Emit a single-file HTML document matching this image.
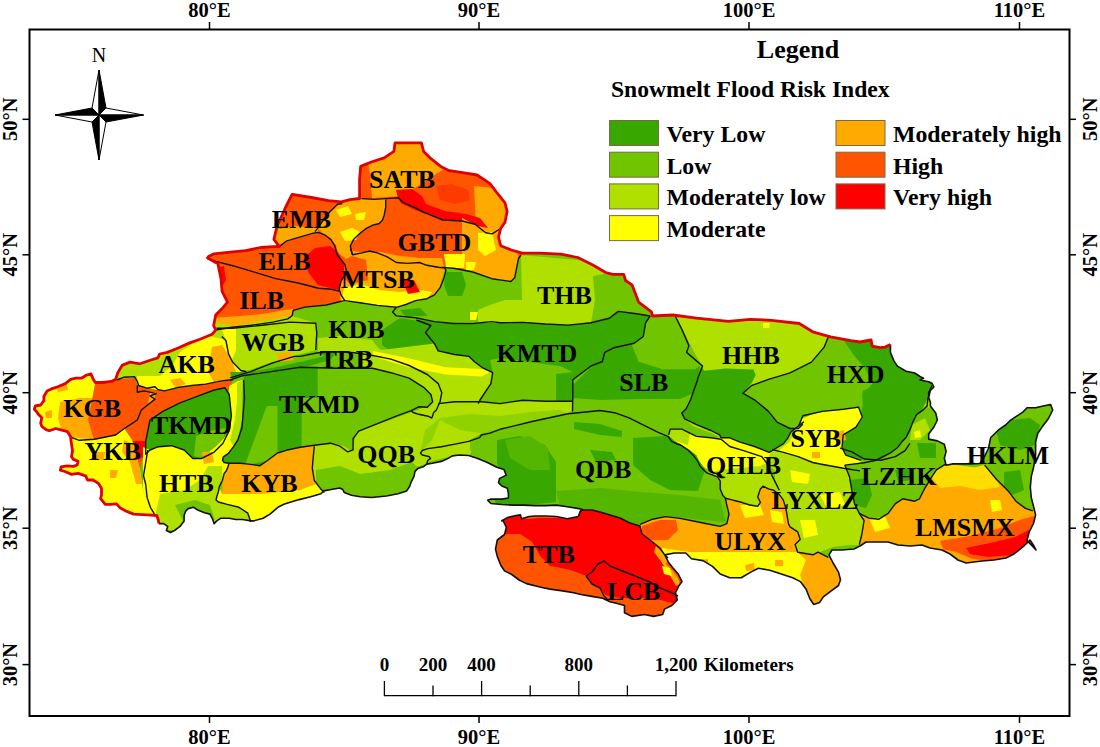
<!DOCTYPE html>
<html><head><meta charset="utf-8"><style>
html,body{margin:0;padding:0;background:#fff;}
svg{display:block;font-family:"Liberation Serif",serif;}
.ax{font-size:20.5px;font-weight:bold;}
.lab text{font-size:26px;font-weight:bold;fill:#000;}
</style></head><body>
<svg width="1100" height="747" viewBox="0 0 1100 747">
<rect width="1100" height="747" fill="#fff"/>
<clipPath id="cp"><polygon points="158.9,523.6 158.2,519.5 156.8,515.5 147.3,514.8 133.6,514.1 126.8,511.4 120.3,508.1 116.5,503.9 110.9,504.3 105.3,504.3 100.6,498.7 101.5,495.0 101.5,488.4 98.7,483.7 93.1,480.0 87.5,480.0 85.6,475.8 78.1,473.4 71.5,474.4 65.0,471.5 60.3,470.1 61.2,466.9 66.9,465.9 73.4,466.4 77.2,465.0 78.1,461.2 73.4,459.4 71.5,456.6 72.5,450.9 70.9,440.0 70.7,437.0 69.6,435.0 67.5,431.7 60.0,429.6 55.7,428.5 49.3,430.7 46.1,429.6 41.8,426.4 40.7,423.2 41.8,417.8 38.6,414.6 36.4,411.4 34.3,409.3 35.4,406.0 40.7,405.0 43.9,400.7 43.9,396.4 47.1,391.0 51.4,388.9 57.8,386.8 65.3,383.6 70.7,379.3 76.0,378.2 81.4,378.2 86.7,375.0 91.0,373.9 93.2,379.3 95.3,382.5 102.8,382.5 111.4,381.4 115.7,379.3 117.8,372.8 122.1,365.4 130.0,362.1 140.0,363.8 150.9,360.0 158.0,357.8 159.6,354.0 167.3,352.4 178.2,348.0 189.1,343.1 200.0,339.3 212.1,334.3 215.7,330.0 213.6,325.7 215.7,315.0 222.1,308.6 227.5,302.1 222.1,291.4 221.0,278.6 217.8,263.6 213.6,261.4 207.5,258.0 208.6,256.4 213.6,253.9 232.8,251.8 245.7,250.7 260.7,247.5 277.8,246.4 279.3,246.7 273.9,239.3 277.0,226.4 285.7,207.0 292.1,194.3 311.4,197.5 328.5,200.7 341.4,201.8 350.0,199.6 359.6,198.5 359.6,179.3 360.7,166.4 371.4,162.0 384.2,157.8 393.9,151.4 395.0,142.9 405.7,142.9 412.9,142.9 421.4,142.9 423.6,151.4 430.0,157.8 440.7,166.4 449.3,170.7 464.3,172.8 477.1,175.0 490.0,183.6 496.4,192.1 505.0,202.8 507.1,211.4 505.0,222.1 500.7,228.5 498.5,237.1 500.7,245.7 511.4,250.0 522.1,253.2 539.2,253.2 560.7,254.2 577.8,257.5 592.8,265.0 605.7,272.5 612.9,274.3 623.6,274.3 625.7,280.7 632.1,285.0 638.6,302.1 651.4,311.8 652.5,316.0 672.8,315.0 696.4,318.2 728.5,321.4 750.0,319.3 771.4,320.3 799.2,323.5 812.7,331.8 830.5,336.9 850.9,340.7 860.0,342.0 871.1,340.0 872.1,346.1 880.1,347.6 885.1,347.1 890.5,344.6 890.5,344.6 890.4,352.2 893.9,360.9 897.4,366.1 906.1,371.3 914.8,373.0 920.0,376.5 923.5,378.3 920.0,380.0 928.7,381.7 932.2,383.5 933.9,387.0 930.4,390.4 928.7,397.4 930.4,402.6 930.4,406.1 935.7,413.0 937.4,420.0 933.9,427.0 928.7,433.9 928.7,439.1 937.4,440.9 944.3,444.3 946.1,451.3 944.3,458.3 946.1,465.2 952.9,463.9 970.2,463.9 980.0,463.5 984.2,457.1 988.5,448.5 990.6,437.8 999.2,429.3 1005.6,425.0 1009.9,420.7 1016.3,416.4 1022.8,412.1 1027.0,407.8 1035.6,407.8 1044.2,405.7 1050.6,404.6 1052.7,410.0 1048.5,418.5 1042.0,427.1 1037.7,433.5 1035.6,442.1 1035.6,455.0 1033.5,467.8 1031.3,476.4 1030.3,487.1 1031.3,497.8 1033.5,506.3 1035.6,514.9 1033.5,523.5 1029.2,532.0 1027.0,540.6 1031.3,544.9 1036.0,550.0 1034.0,546.0 1030.0,540.0 1028.0,542.0 1024.0,546.0 1014.0,554.0 1006.0,558.0 994.0,560.0 982.0,561.0 966.0,563.0 958.0,560.0 950.0,554.0 942.0,550.0 930.0,548.0 922.0,545.0 910.0,546.0 898.0,545.0 888.0,542.0 876.0,542.0 866.0,542.0 860.0,546.0 854.0,549.0 842.0,550.0 832.0,550.0 829.0,554.9 832.8,562.5 838.5,572.1 840.5,579.7 838.5,585.5 830.9,591.2 823.3,596.9 819.5,602.6 813.7,604.5 809.9,598.8 806.1,589.3 800.4,581.6 792.7,577.8 781.3,574.0 769.8,570.2 758.4,568.3 750.7,572.1 741.2,577.8 729.7,577.8 720.2,574.0 712.5,566.4 703.0,560.6 691.5,558.7 685.8,553.0 674.4,553.0 664.8,554.9 668.6,562.5 673.0,568.0 678.2,574.0 682.0,581.6 679.1,585.5 675.5,592.7 677.3,600.0 671.8,605.5 664.5,609.1 662.7,614.5 653.6,616.4 644.5,614.5 631.8,616.4 624.5,612.7 624.5,605.5 617.3,603.6 610.0,601.8 602.7,598.2 591.8,596.4 580.9,594.5 573.6,592.7 562.7,590.9 550.0,589.1 540.9,587.3 526.4,583.6 519.1,580.0 511.8,574.5 504.5,570.9 500.9,565.5 497.3,556.4 495.5,549.1 497.3,540.0 504.5,534.5 506.4,527.3 502.7,520.0 501.8,520.9 507.3,517.6 516.0,515.5 520.4,514.9 521.5,518.7 529.1,516.5 534.5,516.0 545.5,516.0 556.4,516.5 567.3,518.7 578.2,516.5 580.4,511.1 582.5,509.5 580.4,508.9 567.3,506.7 556.4,505.1 545.5,505.6 534.5,505.6 523.6,505.1 512.7,505.1 501.8,504.5 490.9,503.5 487.6,500.2 490.9,499.1 501.8,499.1 508.4,498.0 508.4,493.6 507.3,488.2 501.8,486.0 498.5,482.7 499.6,478.4 506.2,475.1 504.0,469.6 497.5,467.5 490.9,464.2 495.9,466.8 486.8,462.3 477.7,458.6 468.6,455.5 459.5,455.0 452.3,455.9 447.7,458.6 441.4,461.4 432.3,463.2 426.8,464.1 423.2,466.8 417.7,468.6 415.0,471.4 414.0,476.4 411.1,482.2 409.6,486.5 406.7,490.9 398.0,493.8 386.4,496.0 371.8,497.5 360.2,496.7 351.5,495.3 344.2,492.4 342.7,489.5 339.8,488.0 331.1,489.5 323.8,490.9 320.9,493.8 310.7,496.7 299.1,499.6 284.5,504.0 278.3,507.0 270.0,514.1 263.2,518.2 253.6,520.9 250.9,520.9 242.7,519.5 235.9,519.5 229.1,518.2 220.9,518.2 216.8,520.9 214.1,523.6 212.7,519.5 210.0,514.1 204.5,512.7 197.7,510.0 193.6,507.3 188.2,508.6 185.5,511.4 184.1,515.5 184.1,520.9 180.0,526.4 174.5,530.5 170.5,532.5 166.4,530.5 167.7,526.4 163.6,523.6 158.9,523.6"/></clipPath>
<g clip-path="url(#cp)"><polygon points="158.9,523.6 158.2,519.5 156.8,515.5 147.3,514.8 133.6,514.1 126.8,511.4 120.3,508.1 116.5,503.9 110.9,504.3 105.3,504.3 100.6,498.7 101.5,495.0 101.5,488.4 98.7,483.7 93.1,480.0 87.5,480.0 85.6,475.8 78.1,473.4 71.5,474.4 65.0,471.5 60.3,470.1 61.2,466.9 66.9,465.9 73.4,466.4 77.2,465.0 78.1,461.2 73.4,459.4 71.5,456.6 72.5,450.9 70.9,440.0 70.7,437.0 69.6,435.0 67.5,431.7 60.0,429.6 55.7,428.5 49.3,430.7 46.1,429.6 41.8,426.4 40.7,423.2 41.8,417.8 38.6,414.6 36.4,411.4 34.3,409.3 35.4,406.0 40.7,405.0 43.9,400.7 43.9,396.4 47.1,391.0 51.4,388.9 57.8,386.8 65.3,383.6 70.7,379.3 76.0,378.2 81.4,378.2 86.7,375.0 91.0,373.9 93.2,379.3 95.3,382.5 102.8,382.5 111.4,381.4 115.7,379.3 117.8,372.8 122.1,365.4 130.0,362.1 140.0,363.8 150.9,360.0 158.0,357.8 159.6,354.0 167.3,352.4 178.2,348.0 189.1,343.1 200.0,339.3 212.1,334.3 215.7,330.0 213.6,325.7 215.7,315.0 222.1,308.6 227.5,302.1 222.1,291.4 221.0,278.6 217.8,263.6 213.6,261.4 207.5,258.0 208.6,256.4 213.6,253.9 232.8,251.8 245.7,250.7 260.7,247.5 277.8,246.4 279.3,246.7 273.9,239.3 277.0,226.4 285.7,207.0 292.1,194.3 311.4,197.5 328.5,200.7 341.4,201.8 350.0,199.6 359.6,198.5 359.6,179.3 360.7,166.4 371.4,162.0 384.2,157.8 393.9,151.4 395.0,142.9 405.7,142.9 412.9,142.9 421.4,142.9 423.6,151.4 430.0,157.8 440.7,166.4 449.3,170.7 464.3,172.8 477.1,175.0 490.0,183.6 496.4,192.1 505.0,202.8 507.1,211.4 505.0,222.1 500.7,228.5 498.5,237.1 500.7,245.7 511.4,250.0 522.1,253.2 539.2,253.2 560.7,254.2 577.8,257.5 592.8,265.0 605.7,272.5 612.9,274.3 623.6,274.3 625.7,280.7 632.1,285.0 638.6,302.1 651.4,311.8 652.5,316.0 672.8,315.0 696.4,318.2 728.5,321.4 750.0,319.3 771.4,320.3 799.2,323.5 812.7,331.8 830.5,336.9 850.9,340.7 860.0,342.0 871.1,340.0 872.1,346.1 880.1,347.6 885.1,347.1 890.5,344.6 890.5,344.6 890.4,352.2 893.9,360.9 897.4,366.1 906.1,371.3 914.8,373.0 920.0,376.5 923.5,378.3 920.0,380.0 928.7,381.7 932.2,383.5 933.9,387.0 930.4,390.4 928.7,397.4 930.4,402.6 930.4,406.1 935.7,413.0 937.4,420.0 933.9,427.0 928.7,433.9 928.7,439.1 937.4,440.9 944.3,444.3 946.1,451.3 944.3,458.3 946.1,465.2 952.9,463.9 970.2,463.9 980.0,463.5 984.2,457.1 988.5,448.5 990.6,437.8 999.2,429.3 1005.6,425.0 1009.9,420.7 1016.3,416.4 1022.8,412.1 1027.0,407.8 1035.6,407.8 1044.2,405.7 1050.6,404.6 1052.7,410.0 1048.5,418.5 1042.0,427.1 1037.7,433.5 1035.6,442.1 1035.6,455.0 1033.5,467.8 1031.3,476.4 1030.3,487.1 1031.3,497.8 1033.5,506.3 1035.6,514.9 1033.5,523.5 1029.2,532.0 1027.0,540.6 1031.3,544.9 1036.0,550.0 1034.0,546.0 1030.0,540.0 1028.0,542.0 1024.0,546.0 1014.0,554.0 1006.0,558.0 994.0,560.0 982.0,561.0 966.0,563.0 958.0,560.0 950.0,554.0 942.0,550.0 930.0,548.0 922.0,545.0 910.0,546.0 898.0,545.0 888.0,542.0 876.0,542.0 866.0,542.0 860.0,546.0 854.0,549.0 842.0,550.0 832.0,550.0 829.0,554.9 832.8,562.5 838.5,572.1 840.5,579.7 838.5,585.5 830.9,591.2 823.3,596.9 819.5,602.6 813.7,604.5 809.9,598.8 806.1,589.3 800.4,581.6 792.7,577.8 781.3,574.0 769.8,570.2 758.4,568.3 750.7,572.1 741.2,577.8 729.7,577.8 720.2,574.0 712.5,566.4 703.0,560.6 691.5,558.7 685.8,553.0 674.4,553.0 664.8,554.9 668.6,562.5 673.0,568.0 678.2,574.0 682.0,581.6 679.1,585.5 675.5,592.7 677.3,600.0 671.8,605.5 664.5,609.1 662.7,614.5 653.6,616.4 644.5,614.5 631.8,616.4 624.5,612.7 624.5,605.5 617.3,603.6 610.0,601.8 602.7,598.2 591.8,596.4 580.9,594.5 573.6,592.7 562.7,590.9 550.0,589.1 540.9,587.3 526.4,583.6 519.1,580.0 511.8,574.5 504.5,570.9 500.9,565.5 497.3,556.4 495.5,549.1 497.3,540.0 504.5,534.5 506.4,527.3 502.7,520.0 501.8,520.9 507.3,517.6 516.0,515.5 520.4,514.9 521.5,518.7 529.1,516.5 534.5,516.0 545.5,516.0 556.4,516.5 567.3,518.7 578.2,516.5 580.4,511.1 582.5,509.5 580.4,508.9 567.3,506.7 556.4,505.1 545.5,505.6 534.5,505.6 523.6,505.1 512.7,505.1 501.8,504.5 490.9,503.5 487.6,500.2 490.9,499.1 501.8,499.1 508.4,498.0 508.4,493.6 507.3,488.2 501.8,486.0 498.5,482.7 499.6,478.4 506.2,475.1 504.0,469.6 497.5,467.5 490.9,464.2 495.9,466.8 486.8,462.3 477.7,458.6 468.6,455.5 459.5,455.0 452.3,455.9 447.7,458.6 441.4,461.4 432.3,463.2 426.8,464.1 423.2,466.8 417.7,468.6 415.0,471.4 414.0,476.4 411.1,482.2 409.6,486.5 406.7,490.9 398.0,493.8 386.4,496.0 371.8,497.5 360.2,496.7 351.5,495.3 344.2,492.4 342.7,489.5 339.8,488.0 331.1,489.5 323.8,490.9 320.9,493.8 310.7,496.7 299.1,499.6 284.5,504.0 278.3,507.0 270.0,514.1 263.2,518.2 253.6,520.9 250.9,520.9 242.7,519.5 235.9,519.5 229.1,518.2 220.9,518.2 216.8,520.9 214.1,523.6 212.7,519.5 210.0,514.1 204.5,512.7 197.7,510.0 193.6,507.3 188.2,508.6 185.5,511.4 184.1,515.5 184.1,520.9 180.0,526.4 174.5,530.5 170.5,532.5 166.4,530.5 167.7,526.4 163.6,523.6 158.9,523.6" fill="#70c400"/><polygon points="190,240 280,240 280,180 350,190 355,130 520,130 525,255 516,268 514,278 510,282 491,279 472,272 453,268 446,270 444,278 440,287 434,295 427,299 415,301 406,305 396,308 377,305 358,302 339,302 320,305 300,308 293,312 292,316 288,319 273,322 251,325 230,328 210,330" fill="#ff5500"/><polygon points="365,140 440,140 446,168 436,174 418,186 400,196 372,198 370,175" fill="#ffaa00"/><polygon points="474,186 494,188 510,205 510,228 500,234 485,234 476,224 475,205" fill="#ffaa00"/><polygon points="396,190 412,189 422,196 426,204 445,211 466,214 480,218 488,228 478,226 466,221.5 444,219.5 422.7,213 411.8,208.5 400.9,203 398,198" fill="#ff0000"/><polygon points="436,186 452,184 468,190 470,200 455,204 440,200" fill="#ff3a00"/><polygon points="274,230 295,226 318,228 318,233 300,237 280,244 272,245" fill="#ffaa00"/><polygon points="318,229 330,212 337,204 342,203 350,200 362,199 386,199 386,207 384,216 382,220 379,223 373,225 366,228 360,233 353,240 350,246 353,251 360,252 370,253 380,255 389,260 380,262 360,262 345,258 338,253 336,245 331,240 325,235" fill="#ffaa00"/><polygon points="340,232 352,228 360,232 356,240 345,241" fill="#ffff00"/><polygon points="336,210 348,206 352,214 340,217" fill="#ffff00"/><polygon points="355,214 366,212 364,220 356,220" fill="#ffff00"/><polygon points="462,218 476,225 486,234 500,234 510,240 518,255 518,268 515,278 510,282 491,279 472,272 462,268" fill="#ffaa00"/><polygon points="362,253 380,252 400,256 420,258 442,258 444,268 426,266 407,264 396,262 387,257" fill="#ffaa00"/><polygon points="478,233 492,232 496,250 485,256 478,250" fill="#ffff00"/><polygon points="444,254 465,254 464,268 446,268" fill="#ffff00"/><polygon points="466,262 476,262 474,270 466,270" fill="#ffff00"/><polygon points="306,256 315,248 330,246 338,252 344,264 346,272 342,284 340,290 330,288 318,285 308,272" fill="#ff0000"/><polygon points="212,318 240,316 262,314 285,310 293,309 292,316 288,319 273,322 251,325 230,328 212,330" fill="#ffaa00"/><polygon points="216,268 224,266 226,280 220,290 216,282" fill="#ff0000"/><polygon points="345,254 368,252 387,257 396,263 408,264 420,263 427,266 438,268 446,270 444,278 440,287 434,295 427,299 415,301 406,305 396,308 377,305 358,302 341,302 339,290 341,282 346,272" fill="#ffaa00"/><polygon points="344,260 352,256 366,260 368,280 350,284 344,278" fill="#ff5500"/><polygon points="344,288 360,284 380,290 400,292 420,290 432,292 427,299 415,301 406,305 396,308 377,305 358,302 341,302" fill="#ffff00"/><polygon points="402,280 414,280 420,292 408,294" fill="#ff0000"/><polygon points="100,365 215,322 232,326 228,354 233,362 241,371 246,373 232,380 220,382 192,386 165,391 157,390 147,388 138,385 135,377 116,381" fill="#b0e000"/><polygon points="137,376 160,376 172,366 180,352 194,343 209,336 226,340 229,354 233,362 241,371 232,380 220,382 192,386 165,391 157,390 147,388 138,385" fill="#ffff00"/><polygon points="212,347 222,345 228,354 233,364 236,372 229,380 214,382 208,372 210,360" fill="#ffaa00"/><polygon points="170,380 180,378 186,384 176,388" fill="#ffaa00"/><polygon points="30,370 100,370 100,445 60,445 30,425" fill="#ffff00"/><polygon points="60,402 80,398 100,398 100,442 70,440 62,432 58,418" fill="#ffaa00"/><polygon points="56,384 66,382 68,390 58,392" fill="#ffaa00"/><polygon points="45,412 52,410 52,418 46,418" fill="#ffaa00"/><polygon points="97,374 116,379 135,378 137,385 147,388 157,390 165,391 192,386 220,382 232,380 231,388 227,391 212,390 199,395 185,400 171,407 162,412 150,420 147,440 143,456 140,470 132,440 124,428 116,435 94,440 88,420" fill="#ff5500"/><polygon points="150,392 156,392 154,400 148,404" fill="#ffaa00"/><polygon points="133,441 146,441 145,456 138,460" fill="#ff0000"/><polygon points="55,435 94,440 116,435 124,428 132,440 140,470 143,490 150,508 156,516 120,520 90,500 60,475" fill="#ffff00"/><polygon points="124,440 134,444 140,470 142,484 136,484 130,462 122,452" fill="#ffaa00"/><polygon points="95,452 105,452 104,460 96,460" fill="#ffaa00"/><polygon points="110,470 118,470 116,478 110,478" fill="#ffaa00"/><polygon points="146,441 150,420 162.8,411.4 180,402.8 197.1,396.4 214.2,390 225,387.8 229.2,394.3 231.4,415.7 229.2,430.7 222.8,443.5 214.2,452.1 201.4,458.5 192.8,458.5 184.2,450 171.4,445.7 158.5,446.7 150,450 145.7,454.2" fill="#38a800"/><polygon points="196,436 214,430 226,428 222,443.5 214.2,452.1 201.4,458.5 194,456" fill="#70c400"/><polygon points="229,386 238,381 244,380 244.5,398 242,427.8 237.8,440 233.7,446.4 228.1,453.7 223.3,456.9 222.5,460.1 216,470 205,462 208,452.9 216.1,446.4 222.5,440 229.2,430.7 231.4,415.7 229.2,394.3" fill="#ffff00"/><polygon points="237,383 244,380 244.5,398 242,427.8 237.8,440 233.7,446.4 230,440 235,420 237,400" fill="#b0e000"/><polygon points="143,447 150,450 158.5,446.7 171.4,445.7 184.2,450 192.8,458.5 201.4,458.5 208,452.9 216.1,446.4 222.5,440 224,462 228.9,464.1 226.5,470.5 224.1,473.7 222.5,480.2 219.3,486.6 218.5,491.4 216.9,496.2 216.1,500 218.4,502 227.2,504.4 239,507.3 247.8,513.2 250.8,522 240,530 160,530 150,508 143,490" fill="#ffff00"/><polygon points="160,494 185,490 200,480 208,466 222,466 222.5,480.2 219.3,486.6 218.5,491.4 216.9,496.2 216.1,500 218.4,502 227.2,504.4 239,507.3 247.8,513.2 250.8,522 240,530 160,530 156,512" fill="#b0e000"/><polygon points="175,505 195,500 210,505 215,520 185,525" fill="#70c400"/><polygon points="202,452 212,452 214,462 204,464" fill="#ffaa00"/><polygon points="228.9,463.3 240.2,463.3 248.2,464.1 260,465.7 266.8,461 277.5,453 286,450 300,447 314,445 313,456 312,468 314,480 316,484 300,490 280,492 260,494 240,494 222,494 222.5,480.2 224.1,473.7 226.5,470.5" fill="#ffaa00"/><polygon points="222,494 240,494 260,494 280,492 300,490 316,484 320,488 324,493 300,500 276,512 264,518 252,522 247.8,513.2 239,507.3 227.2,504.4 218.4,502 216.1,500 216.9,496.2 218.5,491.4 219.3,486.6" fill="#ffff00"/><polygon points="243,380 246,374 272.8,371.4 305,367.1 326.4,366 347.8,367.1 380,369.3 401.4,373.5 418.5,380 431.4,388.5 435.6,397.1 431.4,403.5 418.5,410 412,412 390.6,420.1 370.5,427.2 356.5,433.2 353.5,440.2 352.5,451.3 344.4,446.2 330.4,443.2 314.3,445.2 300.3,447.2 286.2,450.3 277.5,453 266.8,461 260,465.7 248.2,464.1 240.2,463.3 228.9,463.3 224.1,462.5 222.5,460.1 223.3,456.9 228.1,453.7 233.7,446.4 237.8,440 242,420" fill="#38a800"/><polygon points="317.7,366 326.4,366 347.8,367.1 380,369.3 401.4,373.5 418.5,380 431.4,388.5 435.6,397.1 431.4,403.5 418.5,410 412,412 390.6,420.1 370.5,427.2 356.5,433.2 353.5,440.2 352.5,451.3 344.4,446.2 330.4,443.2 314.3,445.2 301.6,447 301.6,398 317.7,398" fill="#70c400"/><polygon points="266.8,406 277.5,406 277.5,453 266.8,461 253.4,463.7 245.4,463.7" fill="#70c400"/><polygon points="352,451 356,433 370,427 390,420 412,412 418,410 431,404 436,397 440,386 436,378 444,376 446,400 444,420 440,450 420,460 400,470 370,470" fill="#b0e000"/><polygon points="314,445 330,443 344,446 352,451 370,452 400,440 420,420 433,414 440,408 460,420 480,432 470,455 440,456 426,460 420,470 416,480 410,490 396,494 380,496 360,496 342,492 332,492 324,494 314,480 312,468 313,456" fill="#b0e000"/><polygon points="316,470 340,466 360,474 390,470 412,462 420,470 416,480 410,490 396,494 380,496 360,496 342,492 332,492 324,494 316,484" fill="#70c400"/><polygon points="230,372 250,372 272,364 294,356 316,352 337,352 330,360 305,367 273,371 246,374 232,380" fill="#38a800"/><polygon points="250,372 272,364 294,356 316,352 325,356 300,362 272,368" fill="#70c400"/><polygon points="222,328 292,316 316,323 316,350 294,356 272,362 250,370 241,371 233,362 228,354 226,340" fill="#b0e000"/><polygon points="222,330 236,328 236,350 232,360 228,354 226,340" fill="#ffff00"/><polygon points="276,354 290,352 294,360 280,362" fill="#ffaa00"/><polygon points="382,330 400,318 425,322 430.9,325.5 425.5,332.7 434.5,343.6 420,348 390,351 382,345" fill="#38a800"/><polygon points="318,338 340,336 372,340 380,350 372.7,355.5 354.5,352.7 336.4,351.8 318.2,352.7" fill="#b0e000"/><polygon points="369,347 382,350 434.5,343.6 438.2,350.9 454.5,354.5 469.1,356.4 474.5,361.8 481.8,367.3 492.7,372.7 490.9,383.6 483.6,394.5 480,400 478.2,403.6 454.5,401.8 438.2,403.6 436.4,410 427.3,407.3 432.7,401.8 430.9,394.5 423.6,387.3 409.1,378.2 390.9,372.7 372.7,368.2 360,367 360,355" fill="#b0e000"/><polygon points="372.7,350.9 409,358.2 445.5,367.3 481.8,369.1 490,372 481.8,376.4 445.5,374.5 409,367.3 372.7,356.4" fill="#ffff00"/><polygon points="444,267.2 453.6,268.2 472.7,272 491.8,278.7 510.9,281.5 514.7,277.7 516.6,268.2 518.5,258.6 521,255 600,262 652,300 652,316 636,314 618,311 609,318 591,323 568,325 545,324 523,322 500,323 472,323 453,323 434,321 415,318 396,316 392,312 396,308 406,305 415,301 427,299 434,295 440,287 444,278" fill="#b0e000"/><polygon points="444,270 453.6,268.2 472.7,272 491.8,278.7 510.9,281.5 514.7,277.7 516.6,268.2 518.5,258.6 521,256 522,300 505,300 490,305 478,310 478,322 453,323 434,321 415,318 396,316 392,312 396,308 406,305 415,301 427,299 434,295 440,287" fill="#70c400"/><polygon points="446,272 462,272 466,285 462,296 448,296 444,285" fill="#38a800"/><polygon points="400,310 420,308 428,316 405,316" fill="#38a800"/><polygon points="593,276 615,272 632,285 640,302 652,312 652,316 636,314 618,311 609,318 591,323 595,300" fill="#70c400"/><polygon points="470,312 478,312 476,320 470,320" fill="#ffff00"/><polygon points="416.4,320 453,323 472,323 500,323 523,322 545,324 568,325 591,323 609,318 618,311 636,314 650,316 645.6,322.8 643.3,336.5 634.2,343.3 613.8,347.8 604.7,352.4 602.4,361.5 591,366 572.8,379.7 572.8,401.3 545.5,401.3 522.8,400.2 500,403.6 481.8,401.8 480,400 483.6,394.5 490.9,383.6 492.7,372.7 481.8,367.3 474.5,361.8 469.1,356.4 454.5,354.5 438.2,350.9 434.5,343.6 425.5,332.7 430.9,325.5 416.4,320" fill="#38a800"/><polygon points="490,360 500,358 530,362 560,366 572.8,372 572.8,401.3 545.5,401.3 522.8,400.2 500,403.6 481.8,401.8 480,400 483.6,394.5 490.9,383.6 492.7,372.7" fill="#70c400"/><polygon points="556,374 572.8,372 572.8,401.3 556,401" fill="#38a800"/><polygon points="436,403 481.8,401.8 500,403.6 522.8,400.2 545.5,401.3 572.8,401.3 572.5,411.5 568,413.8 532,421.5 500,429.3 489.9,433.1 480.5,438.7 461.8,442.4 443,446.2 428.1,449.9 420.6,451.8 425,430" fill="#b0e000"/><polygon points="440,418 470,414 500,416 530,412 560,410 568,413.8 532,421.5 500,429.3 489.9,433.1 480.5,438.7 461.8,442.4 443,446.2 428.1,449.9 420.6,451.8 425,430" fill="#90d200"/><polygon points="481.4,433.3 531.8,421.5 572.2,411.5 599,411.5 632.7,418.2 666.4,431.6 693.3,441.7 700,455 720,476 724,499 726,522 718,524 703,520 686,518 665,516 652,519 640,524 630,523 610,515 592,510 582,509 560,507 540,506 520,505 492,504 488,500 500,498 508,494 504,481 501,469 491,464 477,459 470,450 470,440" fill="#70c400"/><polygon points="497,440 520,436 545,445 556,462 556,502 520,506 496,504 492,490 500,478 497,462" fill="#38a800"/><polygon points="505,440 530,436 548,448 550,470 530,470 510,458" fill="#54b600"/><polygon points="633,438 665,436 698,445 705,470 698,491 670,490 650,480 633,465" fill="#38a800"/><polygon points="556,491 600,488 640,492 680,495 720,500 726,522 703,520 686,518 665,516 652,519 640,524 630,523 610,515 592,510 582,509 560,507" fill="#54b600"/><polygon points="574,422 600,424 622,431 622,437 600,435 574,429" fill="#38a800"/><polygon points="590,450 612,452 616,460 596,462" fill="#38a800"/><polygon points="440,420 460,430 481.4,433.3 470,440 470,455 453,456 436,460 428,462 420,468 420,452 432,440" fill="#b0e000"/><polygon points="400,470 420,466 436,460 440,470 420,480 410,488" fill="#70c400"/><polygon points="572.8,379.7 591,366 602.4,361.5 604.7,352.4 613.8,347.8 634.2,343.3 643.3,336.5 645.6,322.8 650.2,316 675.2,316 682,329.6 688.9,345.6 686.6,352.4 702.5,366 698,377.4 697.5,380 696,391.6 690.2,401.8 682.9,413.5 687.3,419.3 698.9,426.5 710.5,432.4 720.7,436 720.7,439.6 701.8,436.7 681.5,429.5 668.4,429.5 658.2,432.4 643.6,425.1 629.1,417.8 614.5,412.7 600,410.5 572.5,411.5" fill="#70c400"/><polygon points="573,385 590,368 602,361 604.7,352.4 613.8,347.8 631,343 638.7,361.8 663,369.3 695,369.3 700,366 698,378 696,392 680,399 640,399 600,400 573,398" fill="#38a800"/><polygon points="674,314 830,322 828.5,336.4 824.2,347.1 811.4,362.1 790,372.8 768.5,379.3 751.4,385.7 742.8,393.2 755.7,400.7 768.5,411.4 777.1,422.1 790,428.5 798.5,428.5 802.8,424.2 798.5,426.4 794.2,430.7 790,441.4 779.2,450 772.8,454.2 760,450 742.8,443.5 723.5,439.3 710.7,432.8 693.6,426.4 682.8,417.8 685,411.4 693.6,400.7 695.7,390 697.8,377.1 702.1,366.4 691.4,347.1 682.8,330" fill="#b0e000"/><polygon points="702,366.4 704,370.7 725.7,368.6 753.5,369.6 755.7,375 751.4,383.6 742.8,393.2 755.7,400.7 768.5,411.4 777.1,422.1 790,428.5 798.5,428.5 802.8,424.2 804,421.8 798.2,426.2 790.9,432 788,437.8 783.6,443.6 776.4,448 769.1,452.4 754.5,446.5 740,442.2 729.8,437.8 721.1,437.8 719.6,434.9 710.9,430.5 696.4,424.7 684.7,418.9 681.8,413.1 686.2,408.7 690.5,400 697.5,380 698,377.4" fill="#38a800"/><polygon points="763,323 770,323 769,328 763,328" fill="#ffff00"/><polygon points="742.8,393.2 751.4,385.7 768.5,379.3 790,372.8 811.4,362.1 824.2,347.1 828.5,336.4 830.5,336.9 850.9,340.7 864,342 864,420 858.5,407.1 843.5,409.3 822.1,411.4 802.8,415.7 798.5,426.4 790,428.5 777.1,422.1 768.5,411.4 755.7,400.7" fill="#70c400"/><polygon points="842,338 872,338 890,345 895,362 920,376 935,385 935,440 946,460 930,455 909,452 905,451 895,456 881,460 864,459 861,460 846,455 842,447 843,435 856,427 862,417 861,414.6 862,408 863,403 862,396 863,390.7 867.8,388.5 872.3,384 870,378 865.5,369 861,363.4 854,355.5" fill="#38a800"/><polygon points="800,419.6 815.3,413.2 838.2,409.4 858.5,408.1 862.3,417 856,427.2 843.2,434.8 842,447.5 845.8,455.2 861,460.3 860,470.9 843.5,468.3 818,463.2 790,456.4 777.1,450 779.2,450 790,441.4 794.2,430.7 798.5,426.4 802.8,424.2" fill="#ffff00"/><polygon points="836,432 844,430 846,440 838,442" fill="#ffaa00"/><polygon points="812,452 820,452 820,458 812,458" fill="#ffaa00"/><polygon points="668.7,434.9 670.2,429.1 681.8,429.1 696.4,436.4 710.9,437.8 721.1,437.8 729.8,437.8 740,442.2 754.5,446.5 769.1,452.4 772,449.5 783.6,452.4 770,458 766.2,462.5 770.5,471.3 760,471 740,472 720,476 715.3,474.2 703.6,466.9 699.3,461.1 696.4,455.3 689.1,449.5 674.5,440.7" fill="#ffff00"/><polygon points="668.7,434.9 670.2,429.1 681.8,429.1 690,433 688,445 674.5,440.7" fill="#b0e000"/><polygon points="706.8,472.9 717.5,476.9 720.2,480.9 720.2,488.9 722.9,495.6 725.5,498.3 741.6,502.3 757.7,506.3 760.4,502.3 757.7,497 760.4,488.9 763,486.2 768.4,488.9 773.7,490.3 779.1,494.3 776.4,486.2 772.4,478.2 769.7,470.2 765.7,463.5 760,466 740,468 720,470" fill="#b0e000"/><polygon points="766,462.5 772,449.5 783.6,452.4 798.2,456.7 812.7,462.5 820,464 843.5,468.3 860,470.9 864,462 876,460 888,458 900,453 909,443 912,431 917,419 922,410 927,400 940,400 946,460 940,464 931.6,477.1 924.3,489.2 919.5,498.8 914.7,501.2 902.7,498.8 895.4,503.6 888.2,513.3 878.6,519.3 868.9,518.1 859.3,513.3 864,520 862,535 860,545 848,545 833,547 820,552 812,555 798,552 795,545 800,540 798,532 790,527 787,517 782,504 775,496 770,494 765,488 770,489 775,481 775,471" fill="#b0e000"/><polygon points="790,470 810,474 808,484 792,482" fill="#ffff00"/><polygon points="820,495 840,492 845,505 828,510" fill="#ffff00"/><polygon points="800,520 815,520 818,535 804,538" fill="#ffff00"/><polygon points="844.8,465.1 864.1,462.7 876.1,460.2 883.5,456.5 890.4,453 897.4,447.8 902.6,440.9 906.1,437.4 909.6,430.4 913,421.7 916.5,414.8 923.5,409.6 927,406.1 928.7,392.2 932.2,385.2 940,385 940,426 943.6,443.4 946,448.2 943.6,455.4 946,463.9 936.4,469.9 931.6,477.1 924.3,489.2 919.5,498.8 914.7,501.2 902.7,498.8 895.4,503.6 888.2,513.3 878.6,519.3 868.9,518.1 859.3,513.3 854.5,503.6 852,491.6 849.6,477.1" fill="#70c400"/><polygon points="927,395 934,390 934,406 928,408" fill="#b0e000"/><polygon points="912,425 925,418 930,430 920,440 910,440" fill="#b0e000"/><polygon points="914,432 920,430 921,437 915,438" fill="#ffff00"/><polygon points="850,480 868,478 872,495 866,508 855,505" fill="#38a800"/><polygon points="917,443 936,443 936,458 920,458" fill="#38a800"/><polygon points="895,470 910,468 912,480 898,482" fill="#38a800"/><polygon points="946,463.9 955.7,465.1 965.3,466.3 974.9,467.5 984.6,465.1 991.8,455.4 994.2,443.4 996.6,436.1 1003.9,426.5 1013.5,416.9 1020.7,412 1025.5,407.2 1032.8,409.6 1042.4,406 1049.6,403.6 1052,409.6 1049.6,419.3 1044.8,428.9 1040,441 1037.6,455.4 1035.2,467.5 1032.8,477.1 1030.4,489.2 1032.8,501.2 1035.2,510.8 1025.5,508.4 1015.9,501.2 1008.7,491.6 996.6,479.5 984.6,465.1" fill="#70c400"/><polygon points="996,430 1010,420 1030,418 1040,425 1035,445 1020,450 1000,445" fill="#38a800"/><polygon points="1004,472 1020,470 1024,490 1010,496 1004,486" fill="#38a800"/><polygon points="859.3,513.3 868.9,518.1 878.6,519.3 888.2,513.3 895.4,503.6 902.7,498.8 914.7,501.2 919.5,498.8 924.3,489.2 931.6,477.1 936.4,469.9 946,463.9 955.7,465.1 965.3,466.3 974.9,467.5 984.6,465.1 996.6,479.5 1008.7,491.6 1015.9,501.2 1025.5,508.4 1035.2,510.8 1040,530 1045,575 859,575 859.3,544.6 861.7,535 864.1,520.5" fill="#ffaa00"/><polygon points="931.6,477.1 936.4,469.9 946,463.9 955.7,465.1 965.3,466.3 974.9,467.5 984.6,465.1 996.6,479.5 1000,487 980,490 960,486 940,488" fill="#ffdd00"/><polygon points="870,520 885,516 890,528 875,532" fill="#ffff00"/><polygon points="990,500 1000,500 1002,510 992,512" fill="#ffff00"/><polygon points="940,541 970,536 1000,528 1020,520 1034,516 1036,535 1030,548 1008.7,559 996.6,561.4 972.5,559 955.7,551.8 943.6,549.4" fill="#ff5500"/><polygon points="966,548 995,542 1015,537 1029,530 1029,545 1012,555 988,557 970,554" fill="#ff0000"/><polygon points="640,524.3 652.7,519.2 665.4,516.6 680,518.4 693.4,521 706.8,523.7 720.2,526.4 726.9,523.7 729,514.1 726.5,503.9 725.5,498.3 730.9,499.6 736.2,501 741.6,502.3 749.6,505 757.7,506.3 760.4,502.3 757.7,497 760.4,488.9 763,486.2 768.4,488.9 773.7,490.3 779.1,494.3 783.1,499.6 785.8,507.7 787.1,515.7 788.5,523.7 790,526.8 797.7,531.9 800.2,539.5 795.1,544.6 797.7,552.2 812.9,554.8 818,552.2 828.2,557.3 833.3,562.4 845,580 838.4,590 830.7,598 823.1,605 818,610 812.9,605 800,590 790,585 640,585 642,534" fill="#ffaa00"/><polygon points="662,548 690,552 720,552 760,552 790,552 797.7,552.2 806,560 800,575 805,590 660,590 655,560" fill="#ffff00"/><polygon points="700,560 708,559 708,565 700,566" fill="#ffaa00"/><polygon points="745,565 754,563 755,570 746,571" fill="#ffaa00"/><polygon points="775,560 783,560 783,566 775,566" fill="#ffaa00"/><polygon points="740,505 760,505 764,515 745,518" fill="#ffff00"/><polygon points="770,510 782,512 784,524 772,522" fill="#ffff00"/><polygon points="642,526 660,520 676,520 678,530 668,540 650,540 642,534" fill="#ff5500"/><polygon points="485,519 500,518 507.3,517.6 516,515.5 520.4,514.9 521.5,518.7 529.1,516.5 534.5,516 545.5,516 556.4,516.5 567.3,518.7 578.2,516.5 580.4,511.1 582.5,509.5 592,510 600,512 610,515 620,518 630,523 640,526 642,534 650,540 660,548 664,554 668,558 690,580 690,625 480,625" fill="#ff5500"/><polygon points="502,520 506,518 516,516 520,515 522,518 528,519 540,518 560,518 578,517 580,512 582,510 592,510 600,512 610,515 620,518 630,523 640,526 642,534 650,540 660,548 664,554 668,558 666,564 672,570 678,578 680,584 678,592 674,598 660,596 640,590 620,586 600,580 586,576 570,570 550,566 540,556 532,542 520,534 500,536 498,530" fill="#ff0000"/><polygon points="496,534 520,534 532,542 540,556 550,566 570,570 586,576 592,584 600,588 604,596 600,600 590,594 560,588 530,582 512,574 500,562 494,550" fill="#ff5500"/><polygon points="656,546 664,554 668,558 666,564 672,570 678,578 680,584 676,586 668,572 660,560 654,552" fill="#ffaa00"/><polygon points="662,566 670,568 672,576 664,574" fill="#ffff00"/><polygon points="586,576 592,572 598,564 604,561 610,566 620,570 630,574 640,578 650,582 660,588 670,592 678,596 676,604 660,600 640,598 620,598 605,595 600,588 592,584" fill="#ff0000"/><polygon points="620,600 640,598 660,600 676,604 678,608 668,612 660,616 650,618 640,616 632,618 628,614 626,608" fill="#ff5500"/></g>
<g fill="none" stroke="#111" stroke-width="1.4" stroke-linejoin="round"><polyline points="361.6,198.6 374.4,199.4 385.7,198.6 398.5,197.8 403.3,202.7 414.6,207.5 424.2,212.3 442.8,220 462.1,221 475,224.3 485.7,232.8 492.1,233.9 500.7,228.5"/><polyline points="342.3,203.5 337.5,204.3 334.3,207.5 329.4,212.3 323,220.3 318.2,227.6 315,231.6"/><polyline points="279.3,246.7 286.1,241.2 302.1,236.4 313.4,233.2 318.2,232.4 324.6,234.8 331,239.6 334.5,245.3 337.2,254.8 344.8,264.4 346.7,272 341,281.5 339.1,289.2 341,294.9 344.8,300.6"/><polyline points="385.7,199.4 385.7,207.5 384.1,215.5 382.4,220.3 379.2,223.5 372.8,225.1 366.4,228.4 360,233.2 353.5,239.6 350.3,246 352.5,254.8"/><polyline points="350.5,249.1 352.5,254.8 362,252.9 369.6,251 377.3,252.9 386.8,256.7 396.4,262.5 407.8,263.4 419.3,262.5 426.9,265.3 438.4,267.2 453.6,268.2 472.7,272 491.8,278.7 510.9,281.5 514.7,277.7 516.6,268.2 518.5,258.6 521,255"/><polyline points="207.5,258 215.7,261.4 232.8,265.7 254.3,272.1 275.7,278.6 297.1,282.8 318.5,288.2 331.5,289.2 339.1,291.1"/><polyline points="215.7,330 230,327.5 251.4,325.3 272.8,322.1 287.8,318.9 292.1,315.7 293.2,310.4 305,307.1 326.4,305 339.3,301.8 344.8,300.6 358.2,302.5 377.3,305.4 396.4,307.3 405.9,304.5 415.5,300.6 426.9,298.7 434.5,294.9 440.3,287.3 444.1,277.7 446,270.1 444.1,267.2"/><polyline points="396.4,307.3 392.5,312.1 396.4,315.9 415.5,317.8 434.5,321.6 453.6,323.5 472.7,323.5 491.8,321.6 500,322.8 522.8,322.4 545.5,324 568.3,325.1 591,322.8 609.2,318.3 618.3,311.4 636.5,313.7 650.2,316"/><polyline points="416.4,320 430.9,325.5 425.5,332.7 434.5,343.6 438.2,350.9 454.5,354.5 469.1,356.4 474.5,361.8 481.8,367.3 492.7,372.7 490.9,383.6 483.6,394.5 480,400 478.2,403.6"/><polyline points="438.2,403.6 454.5,401.8 481.8,401.8 500,403.6 522.8,400.2 545.5,401.3 572.8,401.3"/><polyline points="650.2,316 645.6,322.8 643.3,336.5 634.2,343.3 613.8,347.8 604.7,352.4 602.4,361.5 591,366 572.8,379.7 572.8,395.6 572.5,411.5"/><polyline points="426.8,464.1 427.7,460.5 430.5,458.6 429.5,456.8 422.3,455 420.5,453.2 422.3,450.5 427.7,448.6 441.4,446.8 455,444.1 468.6,441.4 479.5,437.7 481.4,435 489.9,433.1 500,429.3 532,421.5 568,413.8 591,411.5 600,410.5 614.5,412.7 629.1,417.8 643.6,425.1 658.2,432.4 668.4,436.7 671.3,441.1 677.1,444 680,444.7 688,450.1 693.4,455.4 697.4,460.8 700.1,466.2 706.8,472.9 717.5,476.9 720.2,480.9 720.2,488.9 722.9,495.6 725.5,498.3 730.9,499.6 736.2,501 741.6,502.3 749.6,505 757.7,506.3 760.4,502.3 757.7,497 760.4,488.9 763,486.2 768.4,488.9 773.7,490.3 779.1,494.3 783.1,499.6 785.8,507.7 787.1,515.7 788.5,523.7 790,526.8 797.7,531.9 800.2,539.5 795.1,544.6 797.7,552.2 812.9,554.8 818,552.2 828.2,557.3"/><polyline points="675.2,316 682,329.6 688.9,345.6 686.6,352.4 702.5,366 698,377.4 697.5,380 690.5,400 686.2,408.7 681.8,413.1 684.7,418.9 696.4,424.7 710.9,430.5 719.6,434.9 721.1,437.8 729.8,437.8 740,442.2 754.5,446.5 769.1,452.4 776.4,448 783.6,443.6 788,437.8 790.9,432 798.2,426.2 804,421.8"/><polyline points="828.5,336.4 824.2,347.1 811.4,362.1 790,372.8 768.5,379.3 751.4,385.7 742.8,393.2 755.7,400.7 768.5,411.4 777.1,422.1 790,428.5 798.5,428.5 802.8,424.2"/><polyline points="798.5,426.4 802.8,415.7 822.1,411.4 843.5,409.3 858.5,407.1 862.3,417 856,427.2 843.2,434.8 842,447.5 845.8,455.2 861,460.3"/><polyline points="840,448.2 852,451.8 864.1,459 881,460.2 895.4,456.6 905.1,450.6 909.9,443.4"/><polyline points="844.8,465.1 864.1,462.7 876.1,460.2 883.5,456.5 890.4,453 897.4,447.8 902.6,440.9 906.1,437.4 909.6,430.4 913,421.7 916.5,414.8 923.5,409.6 927,406.1 928.7,392.2 932.2,385.2"/><polyline points="772,449.5 783.6,452.4 798.2,456.7 812.7,462.5 820,464 843.5,468.3 860,470.9"/><polyline points="668.7,434.9 670.2,429.1 681.8,429.1 696.4,436.4 710.9,437.8 721.1,439.3"/><polyline points="721.1,439.3 729.8,446.5 744.4,450.9 761.8,456.7 766.2,462.5 770.5,471.3 772,475.6 776.4,484.4 779.3,490.2"/><polyline points="640,524.3 652.7,519.2 665.4,516.6 680,518.4 693.4,521 706.8,523.7 720.2,526.4 726.9,523.7 729,514.1 726.5,503.9 725.5,498.3"/><polyline points="580,512 582,510 592,510 600,512 610,515 620,518 630,523 640,526 642,534 650,540 660,548 664,554 668,558"/><polyline points="586,576 592,572 598,564 604,561 610,566 620,570 630,574 640,578 650,582 660,588 670,592 678,596"/><polyline points="586,576 592,584 600,588 604,596 608,600"/><polyline points="844.8,465.1 849.6,477.1 852,491.6 854.5,503.6 859.3,513.3 868.9,518.1 878.6,519.3 888.2,513.3 895.4,503.6 902.7,498.8 914.7,501.2 919.5,498.8 924.3,489.2 931.6,477.1 936.4,469.9 946,463.9"/><polyline points="984.6,465.1 996.6,479.5 1008.7,491.6 1015.9,501.2 1025.5,508.4 1032.8,510.8"/><polyline points="859.3,513.3 864.1,520.5 861.7,535 859.3,544.6"/><polyline points="216.4,328.2 232.7,328.2 262.1,325.3 290,322.1 315.7,323.2 316.8,332.8 315.7,350"/><polyline points="221.8,336.4 225.9,340.5 228.6,354.1 232.7,362.3 240.9,370.5 246.4,371.8"/><polyline points="230,377.8 251.4,371.4 272.8,362.8 294.3,356.4 300,356.4 318.2,352.7 336.4,351.8 354.5,352.7 372.7,355.5 390.9,359.1 409.1,365.5 427.3,374.5 438.2,383.6 441.8,392.7 440,401.8 436.4,410 433.7,412.5 431.8,418.1 428.1,416.2 418.7,414.3 413.1,412.5 411.2,410.6"/><polyline points="230,380 242.9,375.7 272.8,371.4 300,367.3 336.4,368.2 372.7,368.2 390.9,372.7 409.1,378.2 423.6,387.3 430.9,394.5 432.7,401.8 427.3,407.3 418.7,406.8 411.2,410.6 396.2,416.2 377.5,423.7 358.7,431.2 353.1,438.7 353.1,449.9 347.5,451.8 340,446.2 330.4,443.2 314.3,445.2 300.3,447.2 286.2,450.3 277.5,453 266.8,461 260,465.7 248.2,464.1 240.2,463.3 228.9,463.3"/><polyline points="116.8,380 123.6,377.3 134.5,376.6 137.3,381.4 138.6,385.5 146.8,388.2 155,386.8 157.7,389.5 164.5,390.9 178.2,387.5 191.8,385.5 205.5,384.1 219.1,381.4 228.6,380 232.7,380"/><polyline points="137.3,385.5 137.3,392.3 144.1,390.9 156.4,393.6 150,396 155,399.1 148.2,404.5 141.4,410 137.3,420 130.7,424.3 124.3,428.5 115.7,435 94.3,439.3 79.3,440.3 70.7,437.1"/><polyline points="145.7,441.4 150,420 162.8,411.4 180,402.8 197.1,396.4 214.2,390 225,387.8 229.2,394.3 231.4,415.7 229.2,430.7 222.8,443.5 214.2,452.1 201.4,458.5 192.8,458.5 184.2,450 171.4,445.7 158.5,446.7 150,450 145.7,454.2 145.7,441.4"/><polyline points="147.8,450 145.7,462.8 143.5,475.7 145.7,484.2 147.1,497.4 150.5,507.5 155.5,515.9"/><polyline points="243.6,380 244.5,398 242,427.8 237.8,440 233.7,446.4 228.1,453.7 223.3,456.9 222.5,460.1 224.1,462.5 228.9,463.3"/><polyline points="228.9,464.1 226.5,470.5 224.1,473.7 222.5,480.2 219.3,486.6 218.5,491.4 216.9,496.2 216.1,500 218.4,502 227.2,504.4 239,507.3 247.8,513.2 250.8,522"/><polyline points="314.3,446.2 313.3,456.3 312.3,468.3 314.3,480.4 320.4,488.4 324.4,492.4"/></g>
<polyline points="890.5,344.6 890.4,352.2 893.9,360.9 897.4,366.1 906.1,371.3 914.8,373.0 920.0,376.5 923.5,378.3 920.0,380.0 928.7,381.7 932.2,383.5 933.9,387.0 930.4,390.4 928.7,397.4 930.4,402.6 930.4,406.1 935.7,413.0 937.4,420.0 933.9,427.0 928.7,433.9 928.7,439.1 937.4,440.9 944.3,444.3 946.1,451.3 944.3,458.3 946.1,465.2 952.9,463.9 970.2,463.9 980.0,463.5 984.2,457.1 988.5,448.5 990.6,437.8 999.2,429.3 1005.6,425.0 1009.9,420.7 1016.3,416.4 1022.8,412.1 1027.0,407.8 1035.6,407.8 1044.2,405.7 1050.6,404.6 1052.7,410.0 1048.5,418.5 1042.0,427.1 1037.7,433.5 1035.6,442.1 1035.6,455.0 1033.5,467.8 1031.3,476.4 1030.3,487.1 1031.3,497.8 1033.5,506.3 1035.6,514.9 1033.5,523.5 1029.2,532.0 1027.0,540.6 1031.3,544.9 1036.0,550.0 1034.0,546.0 1030.0,540.0 1028.0,542.0 1024.0,546.0 1014.0,554.0 1006.0,558.0 994.0,560.0 982.0,561.0 966.0,563.0 958.0,560.0 950.0,554.0 942.0,550.0 930.0,548.0 922.0,545.0 910.0,546.0 898.0,545.0 888.0,542.0 876.0,542.0 866.0,542.0 860.0,546.0 854.0,549.0 842.0,550.0 832.0,550.0 829.0,554.9 832.8,562.5 838.5,572.1 840.5,579.7 838.5,585.5 830.9,591.2 823.3,596.9 819.5,602.6 813.7,604.5 809.9,598.8 806.1,589.3 800.4,581.6 792.7,577.8 781.3,574.0 769.8,570.2 758.4,568.3 750.7,572.1 741.2,577.8 729.7,577.8 720.2,574.0 712.5,566.4 703.0,560.6 691.5,558.7 685.8,553.0 674.4,553.0 664.8,554.9 668.6,562.5 673.0,568.0 678.2,574.0 682.0,581.6 679.1,585.5 675.5,592.7 677.3,600.0 671.8,605.5 664.5,609.1 662.7,614.5 653.6,616.4 644.5,614.5 631.8,616.4 624.5,612.7 624.5,605.5 617.3,603.6 610.0,601.8 602.7,598.2 591.8,596.4 580.9,594.5 573.6,592.7 562.7,590.9 550.0,589.1 540.9,587.3 526.4,583.6 519.1,580.0 511.8,574.5 504.5,570.9 500.9,565.5 497.3,556.4 495.5,549.1 497.3,540.0 504.5,534.5 506.4,527.3 502.7,520.0 501.8,520.9 507.3,517.6 516.0,515.5 520.4,514.9 521.5,518.7 529.1,516.5 534.5,516.0 545.5,516.0 556.4,516.5 567.3,518.7 578.2,516.5 580.4,511.1 582.5,509.5 580.4,508.9 567.3,506.7 556.4,505.1 545.5,505.6 534.5,505.6 523.6,505.1 512.7,505.1 501.8,504.5 490.9,503.5 487.6,500.2 490.9,499.1 501.8,499.1 508.4,498.0 508.4,493.6 507.3,488.2 501.8,486.0 498.5,482.7 499.6,478.4 506.2,475.1 504.0,469.6 497.5,467.5 490.9,464.2 495.9,466.8 486.8,462.3 477.7,458.6 468.6,455.5 459.5,455.0 452.3,455.9 447.7,458.6 441.4,461.4 432.3,463.2 426.8,464.1 423.2,466.8 417.7,468.6 415.0,471.4 414.0,476.4 411.1,482.2 409.6,486.5 406.7,490.9 398.0,493.8 386.4,496.0 371.8,497.5 360.2,496.7 351.5,495.3 344.2,492.4 342.7,489.5 339.8,488.0 331.1,489.5 323.8,490.9 320.9,493.8 310.7,496.7 299.1,499.6 284.5,504.0 278.3,507.0 270.0,514.1 263.2,518.2 253.6,520.9 250.9,520.9 242.7,519.5 235.9,519.5 229.1,518.2 220.9,518.2 216.8,520.9 214.1,523.6 212.7,519.5 210.0,514.1 204.5,512.7 197.7,510.0 193.6,507.3 188.2,508.6 185.5,511.4 184.1,515.5 184.1,520.9 180.0,526.4 174.5,530.5 170.5,532.5 166.4,530.5 167.7,526.4 163.6,523.6 158.9,523.6" fill="none" stroke="#111" stroke-width="1.6" stroke-linejoin="round"/>
<polyline points="158.9,523.6 158.2,519.5 156.8,515.5 147.3,514.8 133.6,514.1 126.8,511.4 120.3,508.1 116.5,503.9 110.9,504.3 105.3,504.3 100.6,498.7 101.5,495.0 101.5,488.4 98.7,483.7 93.1,480.0 87.5,480.0 85.6,475.8 78.1,473.4 71.5,474.4 65.0,471.5 60.3,470.1 61.2,466.9 66.9,465.9 73.4,466.4 77.2,465.0 78.1,461.2 73.4,459.4 71.5,456.6 72.5,450.9 70.9,440.0 70.7,437.0 69.6,435.0 67.5,431.7 60.0,429.6 55.7,428.5 49.3,430.7 46.1,429.6 41.8,426.4 40.7,423.2 41.8,417.8 38.6,414.6 36.4,411.4 34.3,409.3 35.4,406.0 40.7,405.0 43.9,400.7 43.9,396.4 47.1,391.0 51.4,388.9 57.8,386.8 65.3,383.6 70.7,379.3 76.0,378.2 81.4,378.2 86.7,375.0 91.0,373.9 93.2,379.3 95.3,382.5 102.8,382.5 111.4,381.4 115.7,379.3 117.8,372.8 122.1,365.4 130.0,362.1 140.0,363.8 150.9,360.0 158.0,357.8 159.6,354.0 167.3,352.4 178.2,348.0 189.1,343.1 200.0,339.3 212.1,334.3 215.7,330.0 213.6,325.7 215.7,315.0 222.1,308.6 227.5,302.1 222.1,291.4 221.0,278.6 217.8,263.6 213.6,261.4 207.5,258.0 208.6,256.4 213.6,253.9 232.8,251.8 245.7,250.7 260.7,247.5 277.8,246.4 279.3,246.7 273.9,239.3 277.0,226.4 285.7,207.0 292.1,194.3 311.4,197.5 328.5,200.7 341.4,201.8 350.0,199.6 359.6,198.5 359.6,179.3 360.7,166.4 371.4,162.0 384.2,157.8 393.9,151.4 395.0,142.9 405.7,142.9 412.9,142.9 421.4,142.9 423.6,151.4 430.0,157.8 440.7,166.4 449.3,170.7 464.3,172.8 477.1,175.0 490.0,183.6 496.4,192.1 505.0,202.8 507.1,211.4 505.0,222.1 500.7,228.5 498.5,237.1 500.7,245.7 511.4,250.0 522.1,253.2 539.2,253.2 560.7,254.2 577.8,257.5 592.8,265.0 605.7,272.5 612.9,274.3 623.6,274.3 625.7,280.7 632.1,285.0 638.6,302.1 651.4,311.8 652.5,316.0 672.8,315.0 696.4,318.2 728.5,321.4 750.0,319.3 771.4,320.3 799.2,323.5 812.7,331.8 830.5,336.9 850.9,340.7 860.0,342.0 871.1,340.0 872.1,346.1 880.1,347.6 885.1,347.1 890.5,344.6" fill="none" stroke="#e00000" stroke-width="2.8" stroke-linejoin="round"/>
<g class="lab"><text x="369" y="188">SATB</text><text x="271.8" y="227.5">EMB</text><text x="397.6" y="251">GBTD</text><text x="258.6" y="270">ELB</text><text x="341" y="288.2">MTSB</text><text x="239.3" y="308.6">ILB</text><text x="328.2" y="337.5">KDB</text><text x="241.4" y="351.4">WGB</text><text x="319.6" y="367.5">TRB</text><text x="158.5" y="372.8">AKB</text><text x="63.2" y="416.8">KGB</text><text x="151" y="433.9">TKMD</text><text x="84.6" y="459.6">YKB</text><text x="158.9" y="492.3">HTB</text><text x="241.3" y="492.3">KYB</text><text x="357.3" y="462.7">QQB</text><text x="279" y="412.8">TKMD</text><text x="536.9" y="303.8">THB</text><text x="496.5" y="361.7">KMTD</text><text x="619.3" y="391.3">SLB</text><text x="722.1" y="364.2">HHB</text><text x="826.7" y="382.7">HXD</text><text x="790.5" y="446.6">SYB</text><text x="705.9" y="474.3">QHLB</text><text x="771.5" y="508.8">LYXLZ</text><text x="861.3" y="484.6">LZHK</text><text x="966.7" y="463.9">HKLM</text><text x="914.9" y="536.4">LMSMX</text><text x="714.5" y="550.3">ULYX</text><text x="574.9" y="477.5">QDB</text><text x="522.8" y="563.3">TTB</text><text x="606.9" y="600.3">LCB</text></g>
<rect x="29.5" y="29.5" width="1040" height="686.5" fill="none" stroke="#000" stroke-width="2"/><line x1="209.5" y1="22" x2="209.5" y2="29.5" stroke="#000" stroke-width="1.5"/><line x1="209.5" y1="716" x2="209.5" y2="723" stroke="#000" stroke-width="1.5"/><text class="ax" x="209.5" y="16.6" text-anchor="middle">80°E</text><text class="ax" x="209.5" y="744" text-anchor="middle">80°E</text><line x1="479" y1="22" x2="479" y2="29.5" stroke="#000" stroke-width="1.5"/><line x1="479" y1="716" x2="479" y2="723" stroke="#000" stroke-width="1.5"/><text class="ax" x="479" y="16.6" text-anchor="middle">90°E</text><text class="ax" x="479" y="744" text-anchor="middle">90°E</text><line x1="749" y1="22" x2="749" y2="29.5" stroke="#000" stroke-width="1.5"/><line x1="749" y1="716" x2="749" y2="723" stroke="#000" stroke-width="1.5"/><text class="ax" x="749" y="16.6" text-anchor="middle">100°E</text><text class="ax" x="749" y="744" text-anchor="middle">100°E</text><line x1="1019.5" y1="22" x2="1019.5" y2="29.5" stroke="#000" stroke-width="1.5"/><line x1="1019.5" y1="716" x2="1019.5" y2="723" stroke="#000" stroke-width="1.5"/><text class="ax" x="1019.5" y="16.6" text-anchor="middle">110°E</text><text class="ax" x="1019.5" y="744" text-anchor="middle">110°E</text><line x1="22.5" y1="119.3" x2="29.5" y2="119.3" stroke="#000" stroke-width="1.5"/><line x1="1069.5" y1="119.3" x2="1076" y2="119.3" stroke="#000" stroke-width="1.5"/><text class="ax" transform="translate(16.6,119.3) rotate(-90)" text-anchor="middle">50°N</text><text class="ax" transform="translate(1097,119.3) rotate(-90)" text-anchor="middle">50°N</text><line x1="22.5" y1="254.8" x2="29.5" y2="254.8" stroke="#000" stroke-width="1.5"/><line x1="1069.5" y1="254.8" x2="1076" y2="254.8" stroke="#000" stroke-width="1.5"/><text class="ax" transform="translate(16.6,254.8) rotate(-90)" text-anchor="middle">45°N</text><text class="ax" transform="translate(1097,254.8) rotate(-90)" text-anchor="middle">45°N</text><line x1="22.5" y1="392.7" x2="29.5" y2="392.7" stroke="#000" stroke-width="1.5"/><line x1="1069.5" y1="392.7" x2="1076" y2="392.7" stroke="#000" stroke-width="1.5"/><text class="ax" transform="translate(16.6,392.7) rotate(-90)" text-anchor="middle">40°N</text><text class="ax" transform="translate(1097,392.7) rotate(-90)" text-anchor="middle">40°N</text><line x1="22.5" y1="528.2" x2="29.5" y2="528.2" stroke="#000" stroke-width="1.5"/><line x1="1069.5" y1="528.2" x2="1076" y2="528.2" stroke="#000" stroke-width="1.5"/><text class="ax" transform="translate(16.6,528.2) rotate(-90)" text-anchor="middle">35°N</text><text class="ax" transform="translate(1097,528.2) rotate(-90)" text-anchor="middle">35°N</text><line x1="22.5" y1="664.6" x2="29.5" y2="664.6" stroke="#000" stroke-width="1.5"/><line x1="1069.5" y1="664.6" x2="1076" y2="664.6" stroke="#000" stroke-width="1.5"/><text class="ax" transform="translate(16.6,664.6) rotate(-90)" text-anchor="middle">30°N</text><text class="ax" transform="translate(1097,664.6) rotate(-90)" text-anchor="middle">30°N</text>
<polygon points="99,70 92,108 99,115" fill="#fff" stroke="#000" stroke-width="1" stroke-linejoin="miter"/><polygon points="99,70 106,108 99,115" fill="#000" stroke="#000" stroke-width="1" stroke-linejoin="miter"/><polygon points="143.5,115 106,108 99,115" fill="#fff" stroke="#000" stroke-width="1" stroke-linejoin="miter"/><polygon points="143.5,115 106,122 99,115" fill="#000" stroke="#000" stroke-width="1" stroke-linejoin="miter"/><polygon points="99,160 106,122 99,115" fill="#fff" stroke="#000" stroke-width="1" stroke-linejoin="miter"/><polygon points="99,160 92,122 99,115" fill="#000" stroke="#000" stroke-width="1" stroke-linejoin="miter"/><polygon points="55,115 92,122 99,115" fill="#fff" stroke="#000" stroke-width="1" stroke-linejoin="miter"/><polygon points="55,115 92,108 99,115" fill="#000" stroke="#000" stroke-width="1" stroke-linejoin="miter"/><text x="99" y="62" text-anchor="middle" font-family="Liberation Serif" font-size="20">N</text>
<text x="798" y="58.4" text-anchor="middle" font-size="26" font-weight="bold">Legend</text><text x="611" y="96.5" font-size="23.6" font-weight="bold">Snowmelt Flood Risk Index</text><rect x="609.5" y="120.5" width="49" height="25" fill="#38a800" stroke="#7a6a4a" stroke-width="1"/><text x="666.5" y="142.0" font-size="23.8" font-weight="bold">Very Low</text><rect x="609.5" y="152.2" width="49" height="25" fill="#70c400" stroke="#7a6a4a" stroke-width="1"/><text x="666.5" y="173.7" font-size="23.8" font-weight="bold">Low</text><rect x="609.5" y="183.9" width="49" height="25" fill="#b0e000" stroke="#7a6a4a" stroke-width="1"/><text x="666.5" y="205.4" font-size="23.8" font-weight="bold">Moderately low</text><rect x="609.5" y="215.6" width="49" height="25" fill="#ffff00" stroke="#7a6a4a" stroke-width="1"/><text x="666.5" y="237.1" font-size="23.8" font-weight="bold">Moderate</text><rect x="836" y="120.5" width="49" height="25" fill="#ffaa00" stroke="#7a6a4a" stroke-width="1"/><text x="893" y="142.0" font-size="23.8" font-weight="bold">Moderately high</text><rect x="836" y="152.2" width="49" height="25" fill="#ff5500" stroke="#7a6a4a" stroke-width="1"/><text x="893" y="173.7" font-size="23.8" font-weight="bold">High</text><rect x="836" y="183.9" width="49" height="25" fill="#ff0000" stroke="#7a6a4a" stroke-width="1"/><text x="893" y="205.4" font-size="23.8" font-weight="bold">Very high</text>
<line x1="384.4" y1="695.6" x2="676.0" y2="695.6" stroke="#000" stroke-width="1.3"/><line x1="384.4" y1="681" x2="384.4" y2="696.2" stroke="#000" stroke-width="1.3"/><line x1="433.0" y1="685.4" x2="433.0" y2="696.2" stroke="#000" stroke-width="1.3"/><line x1="481.6" y1="681" x2="481.6" y2="696.2" stroke="#000" stroke-width="1.3"/><line x1="530.2" y1="685.4" x2="530.2" y2="696.2" stroke="#000" stroke-width="1.3"/><line x1="578.8" y1="681" x2="578.8" y2="696.2" stroke="#000" stroke-width="1.3"/><line x1="627.4" y1="685.4" x2="627.4" y2="696.2" stroke="#000" stroke-width="1.3"/><line x1="676.0" y1="681" x2="676.0" y2="696.2" stroke="#000" stroke-width="1.3"/><text x="384.4" y="671.4" text-anchor="middle" font-size="19" font-weight="bold">0</text><text x="433.0" y="671.4" text-anchor="middle" font-size="19" font-weight="bold">200</text><text x="481.6" y="671.4" text-anchor="middle" font-size="19" font-weight="bold">400</text><text x="578.8" y="671.4" text-anchor="middle" font-size="19" font-weight="bold">800</text><text x="676.0" y="671.4" text-anchor="middle" font-size="19" font-weight="bold">1,200</text><text x="704" y="671.4" font-size="19" font-weight="bold">Kilometers</text>
</svg>
</body></html>
